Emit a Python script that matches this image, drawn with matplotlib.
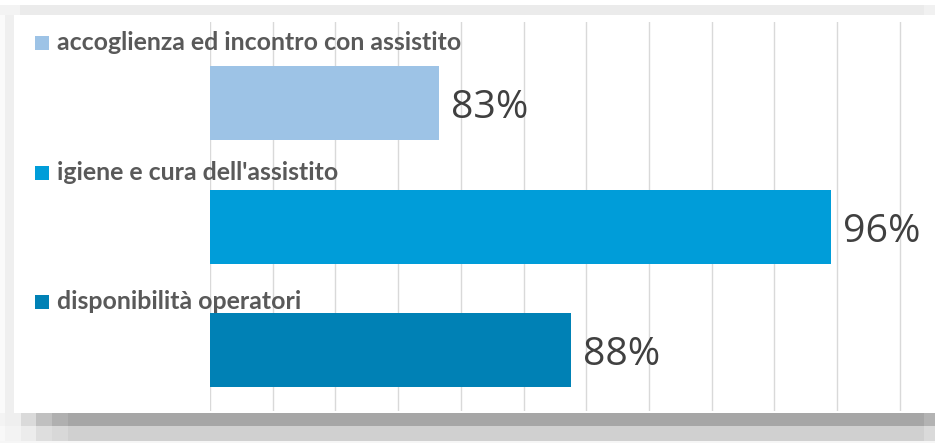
import numpy as np
import matplotlib
matplotlib.use("Agg")
import matplotlib.pyplot as plt
from matplotlib.patches import Rectangle
from matplotlib.transforms import IdentityTransform

# ---- data ----
categories = ["accoglienza ed incontro con assistito",
              "igiene e cura dell'assistito",
              "disponibilità operatori"]
values = [83.3, 95.8, 87.5]
value_labels = ["83%", "96%", "88%"]
bar_colors = ["#9dc3e6", "#009dd9", "#0081b5"]
grid_ticks = [76, 78, 80, 82, 84, 86, 88, 90, 92, 94, 96, 98]

# ---- layout ----
W, H, DPI = 935, 443, 100
fig = plt.figure(figsize=(W / DPI, H / DPI), dpi=DPI)
fig.patch.set_facecolor("white")
PT = 72 / DPI  # points per pixel


def px_rect(x0, y0, x1, y1, color):
    fig.add_artist(Rectangle((x0, H - y1), x1 - x0, y1 - y0,
                             transform=IdentityTransform(),
                             facecolor=color, edgecolor="none", zorder=0))


# frame / shadow decoration
px_rect(0, 5, 935, 15, "#ebebeb")
px_rect(0, 5, 20, 15, "#f3f3f3")
px_rect(924, 5, 935, 15, "#f1f1f1")
px_rect(0, 15, 5, 413, "#fafafa")
px_rect(5, 15, 14, 413, "#efefef")
xs = [0, 5, 21, 36, 52, 68, 924, 935]
dark = ["#f3f3f3", "#efefef", "#dadada", "#c0c0c0", "#b0b0b0", "#a6a6a6", "#b3b3b3"]
light = ["#f8f8f8", "#f3f3f3", "#ececec", "#dedede", "#d8d8d8", "#d0d0d0", "#dadada"]
for k in range(len(xs) - 1):
    px_rect(xs[k], 413, xs[k + 1], 426, dark[k])
    px_rect(xs[k], 426, xs[k + 1], 441, light[k])
px_rect(0, 441, 935, 443, "#f6f6f6")

ax = fig.add_axes([210 / W, (H - 411) / H, (935 - 210) / W, (411 - 22) / H])
ax.set_facecolor("none")
xmin = 76
px_per_unit = 62.7 / 2
ax.set_xlim(xmin, xmin + (935 - 210) / px_per_unit)
ax.set_ylim(2.489, -0.6545)

ypos = np.arange(len(categories))
ax.barh(ypos, values, height=0.598, color=bar_colors, zorder=2)

ax.set_xticks(grid_ticks)
ax.set_yticks([])
ax.xaxis.grid(True, color="#d9d9d9", linewidth=1.0)
ax.set_axisbelow(True)
ax.tick_params(length=0, labelbottom=False, labelleft=False)
for s in ax.spines.values():
    s.set_visible(False)

renderer = fig.canvas.get_renderer()


def fit_size(text, family, weight, target_px, base=20.0):
    t = fig.text(0, 0, text, fontsize=base, family=family, weight=weight)
    w = t.get_window_extent(renderer).width
    t.remove()
    return base * target_px / w


cat_size = fit_size(categories[0], "Lato", "bold", 405)
val_size = fit_size(value_labels[0], "Open Sans", "normal", 77)

label_rise_px = [53, 47, 41.5]
for i, (cat, col, rise) in enumerate(zip(categories, bar_colors, label_rise_px)):
    ax.annotate(cat, xy=(xmin, ypos[i]), xycoords="data",
                xytext=(-153 * PT, rise * PT), textcoords="offset points",
                ha="left", va="baseline", fontsize=cat_size, family="Lato",
                weight="bold", color="#595959", annotation_clip=False)
    xd, yd = ax.transData.transform((xmin, ypos[i]))
    fig.add_artist(Rectangle((xd - 175, yd + rise), 13.5, 13.5,
                             transform=IdentityTransform(),
                             facecolor=col, edgecolor="none"))

for i, (v, lbl) in enumerate(zip(values, value_labels)):
    ax.annotate(lbl, xy=(v, ypos[i]), xycoords="data",
                xytext=(12 * PT, -15 * PT), textcoords="offset points",
                ha="left", va="baseline", fontsize=val_size,
                family="Open Sans", color="#404040", annotation_clip=False)

fig.savefig("out.png", dpi=DPI)
